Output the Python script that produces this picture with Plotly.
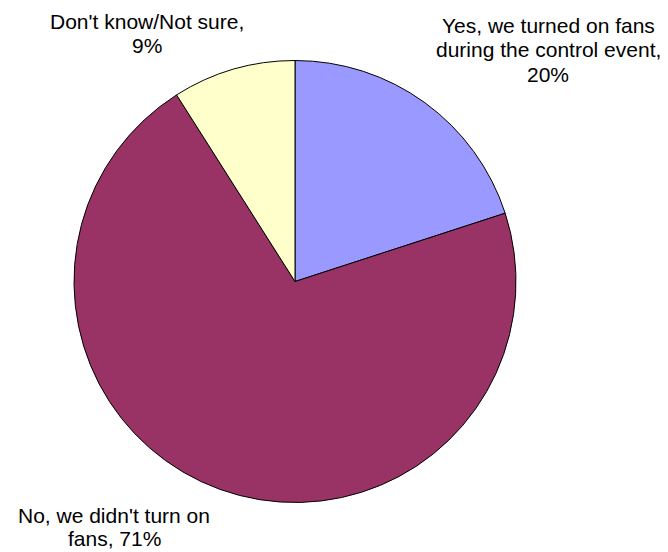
import plotly.graph_objects as go

W, H = 668, 552

labels = ["Yes, we turned on fans during the control event",
          "No, we didn't turn on fans",
          "Don't know/Not sure"]
values = [20, 71, 9]
colors = ["#9999FF", "#993366", "#FFFFCC"]

# outside labels: one entry per text line, with its centre (pixels from top-left)
label_lines = [
    ("Yes, we turned on fans", 548, 26),
    ("during the control event,", 548, 50),
    ("20%", 548, 74),
    ("No, we didn't turn on", 114, 515),
    ("fans, 71%", 114, 538),
    ("Don't know/Not sure,", 147, 21),
    ("9%", 147, 45),
]

# pie placement in pixels
cx, cy, r = 295, 281.5, 221

fig = go.Figure(go.Pie(
    labels=labels,
    values=values,
    sort=False,
    direction="clockwise",
    rotation=0,
    marker=dict(colors=colors, line=dict(color="black", width=1)),
    textinfo="none",
    hoverinfo="label+percent",
    showlegend=False,
    domain=dict(x=[(cx - r) / W, (cx + r) / W],
                y=[1 - (cy + r) / H, 1 - (cy - r) / H]),
))

for txt, px, py in label_lines:
    fig.add_annotation(
        text=txt, x=px / W, y=1 - py / H, xref="paper", yref="paper",
        xanchor="center", yanchor="middle", showarrow=False, align="center",
        font=dict(family="Liberation Sans, Arial, sans-serif", size=21, color="black"),
    )

fig.update_layout(
    width=W, height=H,
    margin=dict(l=0, r=0, t=0, b=0),
    paper_bgcolor="white", plot_bgcolor="white",
)

fig.write_html("out.html")
